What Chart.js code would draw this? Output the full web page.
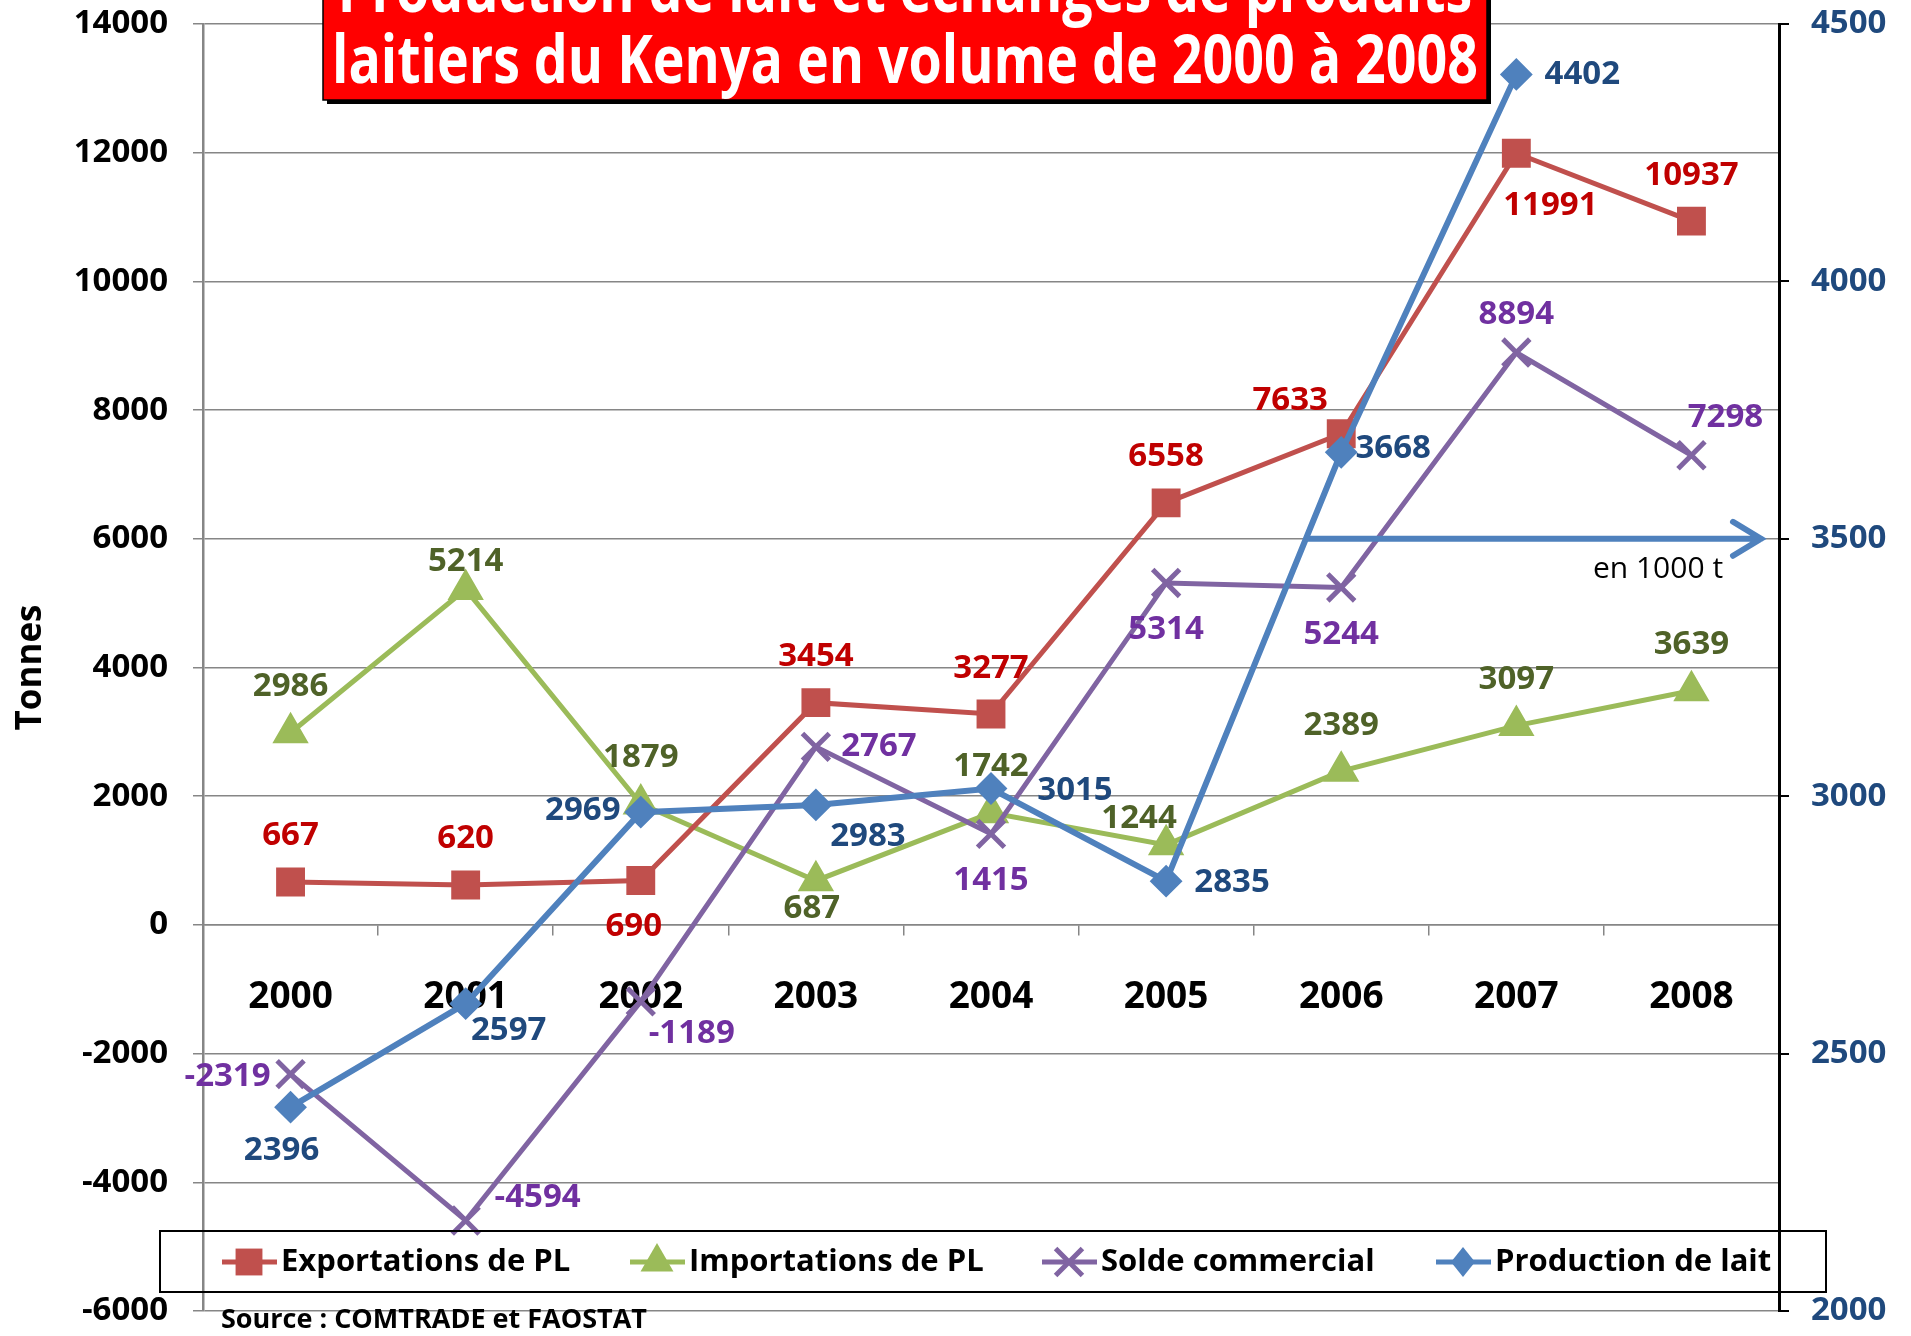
<!DOCTYPE html>
<html>
<head>
<meta charset="utf-8">
<script src="https://cdn.jsdelivr.net/npm/chart.js@4.4.0/dist/chart.umd.min.js"></script>
<style>
  html, body { margin: 0; padding: 0; background: #fff; }
  #wrap { width: 1911px; height: 1336px; position: relative; }
</style>
</head>
<body>
<div id="wrap"><canvas id="milk_chart"></canvas></div>
<script>
// Production de lait et echanges de produits laitiers du Kenya, 2000-2008

const years = ['2000', '2001', '2002', '2003', '2004', '2005', '2006', '2007', '2008'];
const exportations = [667, 620, 690, 3454, 3277, 6558, 7633, 11991, 10937];
const importations = [2986, 5214, 1879, 687, 1742, 1244, 2389, 3097, 3639];
const solde = [-2319, -4594, -1189, 2767, 1415, 5314, 5244, 8894, 7298];
const production = [2396, 2597, 2969, 2983, 3015, 2835, 3668, 4402, null];  // en 1000 t, axe de droite

const title_lines = ['Production de lait et échanges de produits', 'laitiers du Kenya en volume de 2000 à 2008'];
const source_text = 'Source : COMTRADE et FAOSTAT';
const unit_text = 'en 1000 t';

// where each value label sits relative to its point (dx, dy in px)
const exportations_label_pos = [[0, -46], [0, -46], [-7, 46], [0, -46], [0, -45], [0, -46], [-51, -33], [34, 52], [0, -46]];
const importations_label_pos = [[0, -46], [0, -28], [0, -46], [-4, 28], [0, -46], [-27, -26], [0, -46], [0, -46], [0, -46]];
const solde_label_pos = [[-63, 2], [72, -23], [51, 32], [63, 0], [0, 47], [0, 47], [0, 47], [0, -38], [34, -38]];
const production_label_pos = [[-9, 43], [43, 27], [-58, -2], [52, 32], [84, 2], [66, 1], [52, -4], [66, 0], [0, 0]];

const font_family = '"Open Sans", "DejaVu Sans", sans-serif';
Chart.defaults.font.family = font_family;

function draw_marker(ctx, style, x, y, r, color, bw) {
  ctx.save();
  ctx.fillStyle = color;
  ctx.strokeStyle = color;
  ctx.lineWidth = bw;
  ctx.beginPath();
  if (style === 'rect') {
    const s = r * Math.SQRT1_2;
    ctx.rect(x - s, y - s, 2 * s, 2 * s);
    ctx.fill();
  } else if (style === 'triangle') {
    ctx.moveTo(x, y - r);
    ctx.lineTo(x + r * Math.sqrt(3) / 2, y + r / 2);
    ctx.lineTo(x - r * Math.sqrt(3) / 2, y + r / 2);
    ctx.closePath();
    ctx.fill();
  } else if (style === 'rectRot') {
    ctx.moveTo(x, y - r);
    ctx.lineTo(x + r * 0.8, y);
    ctx.lineTo(x, y + r);
    ctx.lineTo(x - r * 0.8, y);
    ctx.closePath();
    ctx.fill();
  } else if (style === 'crossRot') {
    const s = r * Math.SQRT1_2;
    ctx.moveTo(x - s, y - s); ctx.lineTo(x + s, y + s);
    ctx.moveTo(x + s, y - s); ctx.lineTo(x - s, y + s);
    ctx.stroke();
  }
  ctx.restore();
}

const value_labels_plugin = {
  id: 'value_labels',
  afterDatasetsDraw(chart) {
    const ctx = chart.ctx;
    ctx.save();
    ctx.font = 'bold 33px ' + font_family;
    ctx.textAlign = 'center';
    ctx.textBaseline = 'middle';
    chart.data.datasets.forEach((ds, i) => {
      const meta = chart.getDatasetMeta(i);
      meta.data.forEach((pt, j) => {
        const v = ds.data[j];
        if (v === null || v === undefined) return;
        const off = ds.label_pos[j];
        ctx.fillStyle = ds.label_color;
        ctx.fillText(String(v), pt.x + off[0], pt.y + off[1]);
      });
    });
    ctx.restore();
  }
};

const decorations_plugin = {
  id: 'decorations',
  afterDraw(chart) {
    const ctx = chart.ctx;
    const area = chart.chartArea;
    const x_scale = chart.scales.x;
    const y1 = chart.scales.y1;

    // arrow pointing to the right axis
    const ay = y1.getPixelForValue(3500);
    const ax0 = x_scale.getPixelForValue(6) - 33;
    const ax1 = area.right - 18;
    ctx.save();
    ctx.strokeStyle = '#4F81BD';
    ctx.lineWidth = 6;
    ctx.lineCap = 'round';
    ctx.beginPath();
    ctx.moveTo(ax0, ay);
    ctx.lineTo(ax1, ay);
    ctx.moveTo(ax1 - 28, ay - 17);
    ctx.lineTo(ax1, ay);
    ctx.lineTo(ax1 - 28, ay + 17);
    ctx.stroke();
    ctx.fillStyle = '#000';
    ctx.font = '30px ' + font_family;
    ctx.textAlign = 'center';
    ctx.textBaseline = 'middle';
    ctx.fillText(unit_text, ax1 - 103, ay + 31);
    ctx.restore();

    // legend box
    ctx.save();
    ctx.strokeStyle = '#000';
    ctx.lineWidth = 2;
    ctx.strokeRect(160, 1231, 1666, 61);
    const item_x = [222, 630, 1042, 1436];
    const ly = 1262;
    ctx.font = 'bold 31px ' + font_family;
    ctx.textBaseline = 'middle';
    ctx.textAlign = 'left';
    chart.data.datasets.forEach((ds, i) => {
      const x0 = item_x[i];
      ctx.strokeStyle = ds.borderColor;
      ctx.lineWidth = 5;
      ctx.beginPath();
      ctx.moveTo(x0, ly);
      ctx.lineTo(x0 + 55, ly);
      ctx.stroke();
      draw_marker(ctx, ds.pointStyle, x0 + 27, ly, ds.pointRadius, ds.pointBackgroundColor, 5);
      ctx.fillStyle = '#000';
      ctx.fillText(ds.label, x0 + 59, ly);
    });
    ctx.restore();

    // source
    ctx.save();
    ctx.fillStyle = '#000';
    ctx.font = 'bold 27px ' + font_family;
    ctx.textBaseline = 'middle';
    ctx.fillText(source_text, 221, 1320);
    ctx.restore();

    // title box
    ctx.save();
    ctx.fillStyle = '#000';
    ctx.fillRect(327, -10, 1164, 114);
    ctx.fillStyle = '#FF0000';
    ctx.fillRect(323, -10, 1164, 110);
    ctx.strokeStyle = '#000';
    ctx.lineWidth = 1.5;
    ctx.strokeRect(323, -10, 1164, 110);
    ctx.fillStyle = '#fff';
    ctx.font = 'bold 66px ' + font_family;
    ctx.textAlign = 'center';
    ctx.textBaseline = 'alphabetic';
    const s = 1146 / ctx.measureText(title_lines[1]).width;
    [12, 83].forEach((base, k) => {
      ctx.save();
      ctx.translate(905, base);
      ctx.scale(s, 1);
      ctx.fillText(title_lines[k], 0, 0);
      ctx.restore();
    });
    ctx.restore();
  }
};

// keep tick label overhang out of the layout, the padding below sets the plot box
function fit_y(width) {
  return (scale) => {
    scale.width = width;
    scale.paddingTop = 0;
    scale.paddingBottom = 0;
  };
}

const ctx = document.getElementById('milk_chart').getContext('2d');

const milk_chart = new Chart(ctx, {
  type: 'line',
  data: {
    labels: years,
    datasets: [
      {
        label: 'Exportations de PL',
        data: exportations,
        yAxisID: 'y',
        borderColor: '#C0504D',
        backgroundColor: '#C0504D',
        pointBackgroundColor: '#C0504D',
        pointBorderColor: '#C0504D',
        pointStyle: 'rect',
        pointRadius: 19,
        pointBorderWidth: 2,
        borderWidth: 5,
        tension: 0,
        order: 2,
        label_color: '#C00000',
        label_pos: exportations_label_pos
      },
      {
        label: 'Importations de PL',
        data: importations,
        yAxisID: 'y',
        borderColor: '#9BBB59',
        backgroundColor: '#9BBB59',
        pointBackgroundColor: '#9BBB59',
        pointBorderColor: '#9BBB59',
        pointStyle: 'triangle',
        pointRadius: 19,
        pointBorderWidth: 2,
        borderWidth: 5,
        tension: 0,
        order: 4,
        label_color: '#4F6228',
        label_pos: importations_label_pos
      },
      {
        label: 'Solde commercial',
        data: solde,
        yAxisID: 'y',
        borderColor: '#8064A2',
        backgroundColor: '#8064A2',
        pointBackgroundColor: '#8064A2',
        pointBorderColor: '#8064A2',
        pointStyle: 'crossRot',
        pointRadius: 19,
        pointBorderWidth: 5,
        borderWidth: 5,
        tension: 0,
        order: 3,
        label_color: '#7030A0',
        label_pos: solde_label_pos
      },
      {
        label: 'Production de lait',
        data: production,
        yAxisID: 'y1',
        borderColor: '#4F81BD',
        backgroundColor: '#4F81BD',
        pointBackgroundColor: '#4F81BD',
        pointBorderColor: '#4F81BD',
        pointStyle: 'rectRot',
        pointRadius: 15,
        pointBorderWidth: 2,
        borderWidth: 6,
        tension: 0,
        order: 1,
        label_color: '#1F497D',
        label_pos: production_label_pos
      }
    ]
  },
  options: {
    responsive: true,
    maintainAspectRatio: false,
    animation: false,
    events: [],
    layout: { padding: { left: 0, right: 0, top: 22, bottom: 25 } },
    plugins: {
      legend: { display: false },
      tooltip: { enabled: false },
      title: { display: false }
    },
    scales: {
      x: {
        type: 'category',
        position: { y: 0 },
        offset: true,
        afterFit: (scale) => {
          scale.height = 0;
          scale.paddingLeft = 0;
          scale.paddingRight = 0;
        },
        grid: { offset: true, drawOnChartArea: false, drawTicks: true, tickLength: 10, color: '#868686', lineWidth: 1.5 },
        border: { display: true, color: '#868686', width: 1.5 },
        ticks: { color: '#000', font: { size: 37, weight: 'bold' }, padding: 40, maxRotation: 0, autoSkip: false }
      },
      y: {
        position: 'left',
        min: -6000,
        max: 14000,
        afterFit: fit_y(203),
        ticks: {
          stepSize: 2000,
          color: '#000',
          padding: 25,
          font: { size: 33, weight: 'bold' },
          callback: (v) => String(v)
        },
        grid: { color: '#868686', lineWidth: 1.5, tickLength: 10 },
        border: { color: '#868686', width: 2.5 },
        title: {
          display: true,
          text: 'Tonnes',
          color: '#000',
          font: { size: 35, weight: 'bold' },
          padding: { top: 10, bottom: 0 }
        }
      },
      y1: {
        position: 'right',
        min: 2000,
        max: 4500,
        afterFit: fit_y(132),
        ticks: {
          stepSize: 500,
          color: '#1F497D',
          padding: 22,
          font: { size: 33, weight: 'bold' },
          callback: (v) => String(v)
        },
        grid: { drawOnChartArea: false, color: '#000', lineWidth: 2, tickLength: 10 },
        border: { color: '#000', width: 3 }
      }
    }
  },
  plugins: [value_labels_plugin, decorations_plugin]
});
</script>
</body>
</html>
